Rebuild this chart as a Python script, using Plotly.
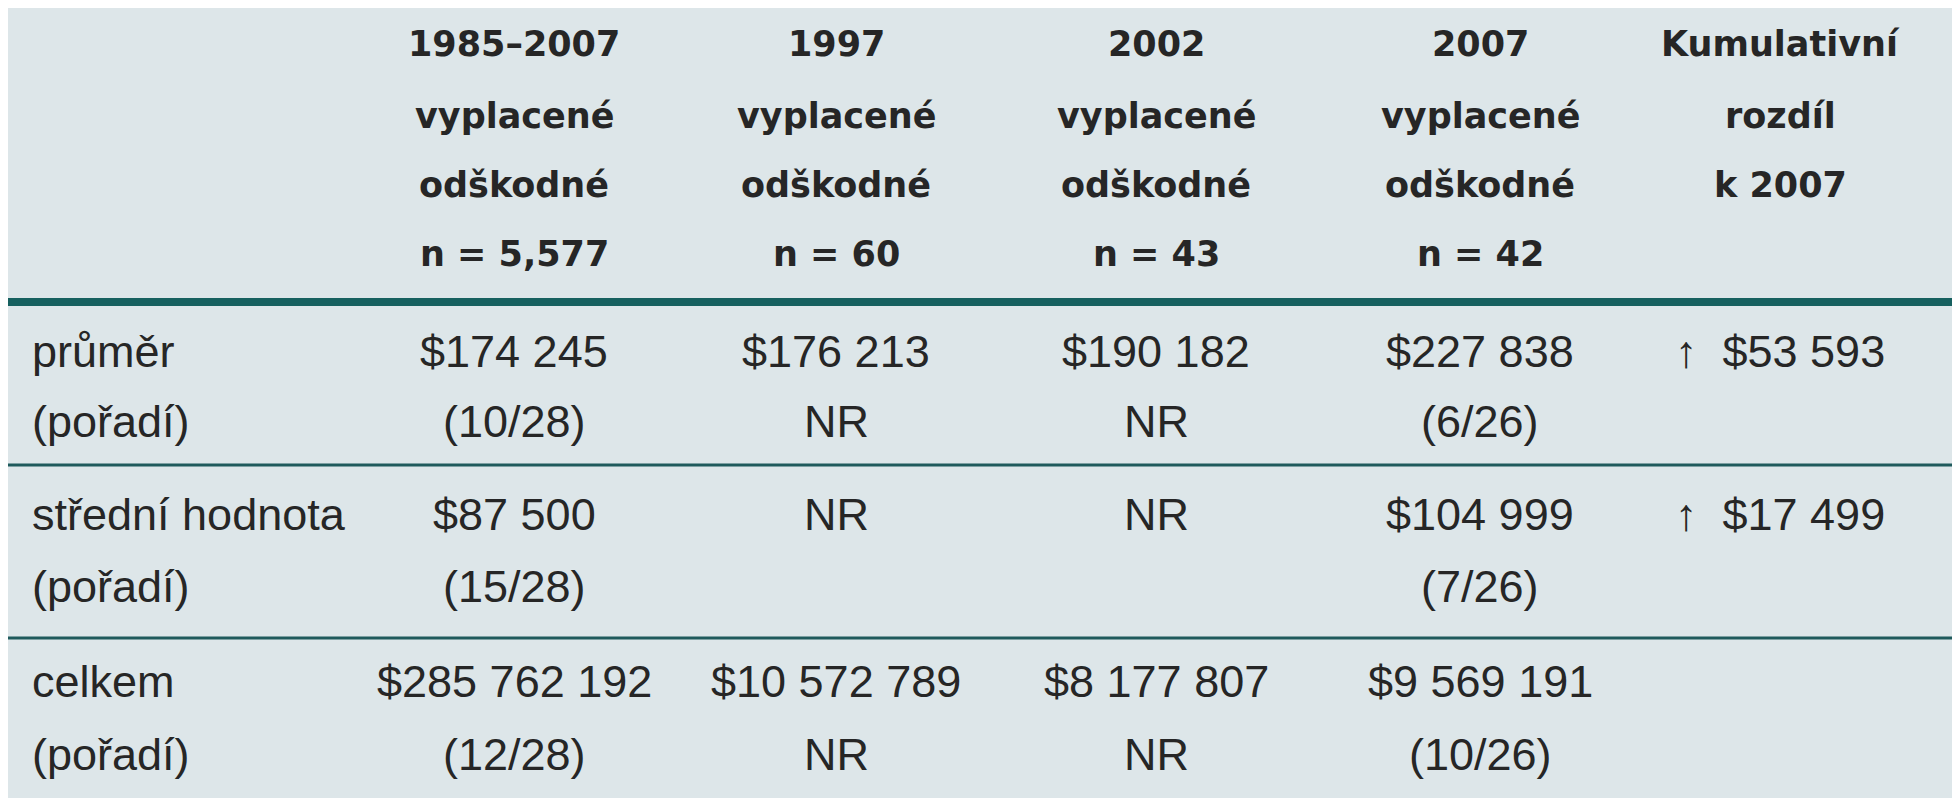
import plotly.graph_objects as go

W, H = 1960, 800
header_lines = [
    ["1985–2007", "vyplacené", "odškodné", "n = 5,577"],
    ["1997", "vyplacené", "odškodné", "n = 60"],
    ["2002", "vyplacené", "odškodné", "n = 43"],
    ["2007", "vyplacené", "odškodné", "n = 42"],
    ["Kumulativní", "rozdíl", "k 2007"],
]
row_labels = [["průměr", "(pořadí)"], ["střední hodnota", "(pořadí)"], ["celkem", "(pořadí)"]]
col_1985 = [["$174 245", "(10/28)"], ["$87 500", "(15/28)"], ["$285 762 192", "(12/28)"]]
col_1997 = [["$176 213", "NR"], ["NR", ""], ["$10 572 789", "NR"]]
col_2002 = [["$190 182", "NR"], ["NR", ""], ["$8 177 807", "NR"]]
col_2007 = [["$227 838", "(6/26)"], ["$104 999", "(7/26)"], ["$9 569 191", "(10/26)"]]
col_diff = [["↑  $53 593", ""], ["↑  $17 499", ""], ["", ""]]

cols = [col_1985, col_1997, col_2002, col_2007, col_diff]
xc = [506, 828, 1148, 1472, 1772]
head_y = [36, 108, 177, 246]
row_y = [[343, 413], [506, 578], [673, 746]]
TXT = "#262626"
BODY = "Liberation Sans"
HEAD = "DejaVu Sans"

fig = go.Figure()
ann = []
def A(x, y, t, font, size, anchor="center", bold=False):
    ann.append(dict(x=x, y=H - y, xref="x", yref="y", text=(f"<b>{t}</b>" if bold else t),
                    showarrow=False, xanchor=anchor, yanchor="middle",
                    font=dict(family=font, size=size, color=TXT)))

for c, lines in enumerate(header_lines):
    for i, t in enumerate(lines):
        A(xc[c], head_y[i], t, HEAD, 35, bold=True)
for r, lab in enumerate(row_labels):
    for i, t in enumerate(lab):
        A(22, row_y[r][i], t, BODY, 45, anchor="left")
    for c, col in enumerate(cols):
        for i, t in enumerate(col[r]):
            if t:
                A(xc[c], row_y[r][i], t, BODY, 45)

shapes = [
    dict(type="rect", x0=0, x1=1957, y0=H - 790, y1=H, fillcolor="#dde6e9", line_width=0, layer="below"),
    dict(type="line", x0=0, x1=1957, y0=H - 294, y1=H - 294, line=dict(color="#16605f", width=8)),
    dict(type="line", x0=0, x1=1957, y0=H - 457, y1=H - 457, line=dict(color="#1f5a5c", width=3)),
    dict(type="line", x0=0, x1=1957, y0=H - 630, y1=H - 630, line=dict(color="#1f5a5c", width=3)),
]
fig.update_layout(width=W, height=H, margin=dict(l=0, r=0, t=0, b=0),
                  paper_bgcolor="white", plot_bgcolor="white",
                  xaxis=dict(range=[0, W], visible=False, fixedrange=True),
                  yaxis=dict(range=[0, H], visible=False, fixedrange=True),
                  annotations=ann, shapes=shapes, showlegend=False)
fig.write_html("out.html")
